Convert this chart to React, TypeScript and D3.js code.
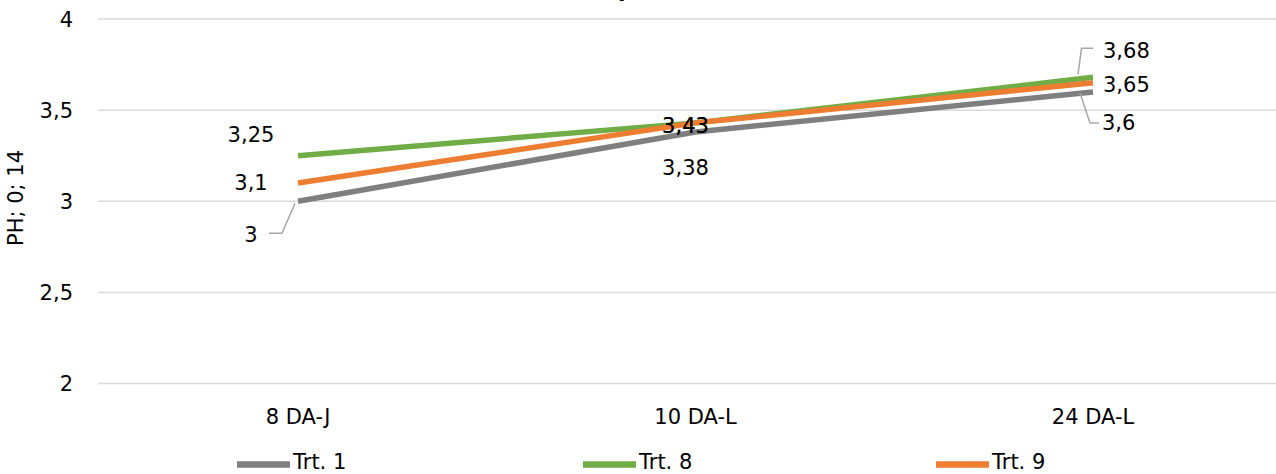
import React from "react";
import * as d3 from "d3";

const categories = ["8 DA-J", "10 DA-L", "24 DA-L"];
const seriesNames = ["Trt. 1", "Trt. 8", "Trt. 9"];
const trt1 = [3, 3.38, 3.6];
const trt8 = [3.25, 3.43, 3.68];
const trt9 = [3.1, 3.43, 3.65];
const yTicks = [2, 2.5, 3, 3.5, 4];
const colors = ["#7F7F7F", "#70AD47", "#ED7D31"];

// label offsets (dx, dy, anchor) relative to point, per series per point
const labelOffsets = [
  [[-47, 41, "middle"], [-10, 43, "middle"], [9, 38, "start"]],
  [[-47, -13.5, "middle"], [-10, 10, "middle"], [10, -19, "start"]],
  [[-47, 7, "middle"], [-10, 10, "middle"], [10, 9, "start"]],
];

const W = 1276;
const H = 474;
const FONT = "DejaVu Sans, Verdana, sans-serif";
const FS = 21;

export default function App() {
  const data = [trt1, trt8, trt9];
  const x = d3.scalePoint<string>().domain(categories).range([298, 1093]);
  const y = d3.scaleLinear().domain([2, 4]).range([383.5, 19]);
  const line = d3
    .line<number>()
    .x((_, i) => x(categories[i]) as number)
    .y((d) => y(d));
  const fmt = (v: number) => String(v).replace(".", ",");

  const x0 = x(categories[0]) as number;
  const x2 = x(categories[2]) as number;

  return (
    <svg
      width={W}
      height={H}
      style={{ position: "absolute", left: 0, top: 0, background: "#fff" }}
      fontFamily={FONT}
    >
      <rect width={W} height={H} fill="#fff" />
      {/* title (mostly cut off) */}
      <text x={618} y={-3} fontSize={22} fontWeight="bold" fill="#000">
        pH
      </text>
      {/* gridlines */}
      {yTicks.map((t) => (
        <line key={t} x1={98} x2={1292} y1={y(t)} y2={y(t)} stroke="#D9D9D9" strokeWidth={1.5} />
      ))}
      {/* y tick labels */}
      {yTicks.map((t) => (
        <text key={"t" + t} x={73} y={y(t) + 7.5} textAnchor="end" fontSize={FS} fill="#000">
          {fmt(t)}
        </text>
      ))}
      {/* y axis title */}
      <text
        transform={`translate(23,198) rotate(-90)`}
        textAnchor="middle"
        fontSize={FS}
        fill="#000"
      >
        PH; 0; 14
      </text>
      {/* category labels */}
      {categories.map((c) => (
        <text key={c} x={x(c)} y={424} textAnchor="middle" fontSize={FS} fill="#000">
          {c}
        </text>
      ))}
      {/* lines */}
      {data.map((s, i) => (
        <path key={i} d={line(s) || ""} fill="none" stroke={colors[i]} strokeWidth={5.5} strokeLinecap="butt" />
      ))}
      {/* leader lines */}
      <polyline
        points={`269,${y(trt1[0]) + 32} 282,${y(trt1[0]) + 32} ${x0 - 3},${y(trt1[0]) + 2}`}
        fill="none"
        stroke="#A6A6A6"
        strokeWidth={1.5}
      />
      <polyline
        points={`${x2},${y(trt8[2]) - 29} ${x2 - 11.5},${y(trt8[2]) - 29} ${x2 - 15},${y(trt8[2]) - 3}`}
        fill="none"
        stroke="#A6A6A6"
        strokeWidth={1.5}
      />
      <polyline
        points={`${x2 - 13},${y(trt1[2]) + 1} ${x2 - 3},${y(trt1[2]) + 31} ${x2 + 6},${y(trt1[2]) + 31}`}
        fill="none"
        stroke="#A6A6A6"
        strokeWidth={1.5}
      />
      {/* data labels */}
      {data.map((s, i) =>
        s.map((v, j) => {
          const [dx, dy, anchor] = labelOffsets[i][j] as [number, number, string];
          return (
            <text
              key={`${i}-${j}`}
              x={(x(categories[j]) as number) + dx}
              y={y(v) + dy}
              textAnchor={anchor}
              fontSize={FS}
              fill="#000"
            >
              {fmt(v)}
            </text>
          );
        })
      )}
      {/* legend */}
      {seriesNames.map((n, i) => {
        const lx = [237, 583, 936][i];
        return (
          <g key={n}>
            <line x1={lx} x2={lx + 53} y1={464.5} y2={464.5} stroke={colors[i]} strokeWidth={6.5} />
            <text x={lx + 56} y={469} fontSize={FS} fill="#000">
              {n}
            </text>
          </g>
        );
      })}
    </svg>
  );
}
